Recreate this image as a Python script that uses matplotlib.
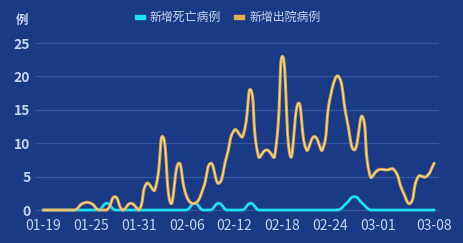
import numpy as np
import matplotlib
matplotlib.use("Agg")
import matplotlib.pyplot as plt
from matplotlib.patches import Rectangle

plt.rcParams['font.family'] = ['Noto Sans CJK SC', 'DejaVu Sans']

# 01-19 .. 03-08 (2020), one value per day
dates = ['01-19', '01-20', '01-21', '01-22', '01-23', '01-24', '01-25', '01-26', '01-27', '01-28',
         '01-29', '01-30', '01-31', '02-01', '02-02', '02-03', '02-04', '02-05', '02-06', '02-07',
         '02-08', '02-09', '02-10', '02-11', '02-12', '02-13', '02-14', '02-15', '02-16', '02-17',
         '02-18', '02-19', '02-20', '02-21', '02-22', '02-23', '02-24', '02-25', '02-26', '02-27',
         '02-28', '02-29', '03-01', '03-02', '03-03', '03-04', '03-05', '03-06', '03-07', '03-08']
deaths = [0, 0, 0, 0, 0, 0, 0, 0, 1, 0,
          0, 0, 0, 0, 0, 0, 0, 0, 0, 1,
          0, 0, 1, 0, 0, 0, 1, 0, 0, 0,
          0, 0, 0, 0, 0, 0, 0, 0, 1, 2,
          1, 0, 0, 0, 0, 0, 0, 0, 0, 0]
cured = [0, 0, 0, 0, 0, 1, 1, 0, 0, 2,
         0, 1, 0, 4, 3, 11, 1, 7, 2, 1,
         3, 7, 4, 8, 12, 11, 18, 8, 9, 8,
         23, 8, 16, 9, 11, 9, 17, 20, 14, 9,
         14, 5, 6, 6, 6, 3, 1, 5, 5, 7]
tick_idx = [0, 6, 12, 18, 24, 30, 36, 42, 49]
y_ticks = [0, 5, 10, 15, 20, 25]

bg = '#1a3a85'
txt = '#c9d6f0'


def smooth_line(xs, ys, sx, sy, smooth=0.5, n=24):
    # bezier smoothing like echarts 4 (global bbox constraint), in pixel units
    P = np.column_stack([np.asarray(xs, float) * sx, np.asarray(ys, float) * sy])
    lo, hi = P.min(axis=0), P.max(axis=0)
    N = len(P)
    t = np.linspace(0, 1, n)[1:, None]
    out = [P[:1]]
    cp0 = P[0].copy()
    for k in range(1, N):
        p = P[k]
        prev = P[k - 1]
        nxt = P[k + 1] if k < N - 1 else p
        v = nxt - prev
        lp = np.hypot(*(p - prev))
        ln = np.hypot(*(nxt - p))
        r = ln / (ln + lp)
        cp1 = p - v * smooth * (1 - r)
        c0 = np.clip(cp0, lo, hi)
        c1 = np.clip(cp1, lo, hi)
        u = 1 - t
        seg = u**3 * prev + 3 * u**2 * t * c0 + 3 * u * t**2 * c1 + t**3 * p
        out.append(seg)
        cp0 = p + v * smooth * r
    out = np.vstack(out)
    return out[:, 0] / sx, out[:, 1] / sy


x = np.arange(len(dates))
sx, sy = 7.98, 6.68

fig = plt.figure(figsize=(4.64, 2.43), dpi=100, facecolor=bg)
ax = fig.add_axes([0.0776, 0.1247, 0.8685, 0.7093], facecolor=bg)

dx, dy = smooth_line(x, deaths, sx, sy)
ax.plot(dx, dy, color='#1ee0f5', lw=2.0, solid_capstyle='round', zorder=3)
cx, cy = smooth_line(x, cured, sx, sy)
ax.plot(cx, cy, color='#d8a548', lw=2.2, solid_capstyle='round', zorder=4)
ax.plot(cx, cy, color='#f2dcaa', lw=0.8, solid_capstyle='round', zorder=5)

ax.set_xlim(-0.88, 49.6)
ax.set_ylim(-0.4, 25.4)
ax.set_xticks([x[i] for i in tick_idx])
ax.set_xticklabels([dates[i] for i in tick_idx])
ax.set_yticks(y_ticks)
for s in ax.spines.values():
    s.set_visible(False)
ax.grid(axis='y', color='#3457a5', lw=0.9)
ax.set_axisbelow(True)
ax.tick_params(length=0, colors=txt, labelsize=10)
ax.tick_params(axis='x', pad=4.5)
ax.tick_params(axis='y', pad=4)
for lab in ax.get_yticklabels():
    lab.set_fontweight('bold')

fig.text(22 / 464, 1 - 20 / 243, '例', color=txt, fontsize=9, ha='center', va='center',
         fontweight='bold')

# legend
fig.add_artist(Rectangle((135 / 464, 1 - 19 / 243), 10 / 464, 4 / 243, color='#1ee0f5',
                         transform=fig.transFigure))
fig.text(150 / 464, 1 - 17 / 243, '新增死亡病例', color=txt, fontsize=8.6, va='center')
fig.add_artist(Rectangle((234 / 464, 1 - 19 / 243), 10 / 464, 4 / 243, color='#e0b050',
                         transform=fig.transFigure))
fig.text(250 / 464, 1 - 17 / 243, '新增出院病例', color=txt, fontsize=8.6, va='center')

fig.savefig('out.png', dpi=100, facecolor=bg)
